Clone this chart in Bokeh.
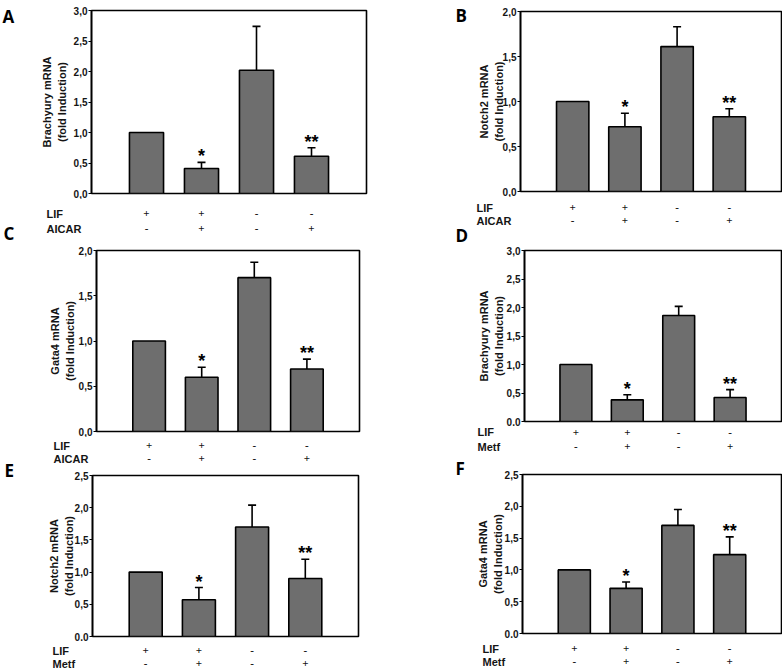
from bokeh.plotting import figure
from bokeh.models import (ColumnDataSource, Whisker, TeeHead, Label, LabelSet,
                          CustomJSTickFormatter, FixedTicker, Range1d)
from bokeh.layouts import row, column
from bokeh.core.properties import value
from bokeh.embed import file_html
from bokeh.resources import INLINE

# ---------------- data ----------------
positions = [1, 2, 3, 4]
lif_row = ["+", "+", "-", "-"]
drug_row = ["-", "+", "-", "+"]
stars = ["", "*", "", "**"]

brachyury_aicar_mean = [1.0, 0.41, 2.02, 0.61]
brachyury_aicar_err = [0.0, 0.10, 0.72, 0.14]
notch2_aicar_mean = [1.0, 0.72, 1.61, 0.83]
notch2_aicar_err = [0.0, 0.15, 0.22, 0.09]
gata4_aicar_mean = [1.0, 0.60, 1.70, 0.69]
gata4_aicar_err = [0.0, 0.11, 0.17, 0.11]
brachyury_metf_mean = [1.0, 0.38, 1.86, 0.42]
brachyury_metf_err = [0.0, 0.09, 0.16, 0.14]
notch2_metf_mean = [1.0, 0.57, 1.70, 0.90]
notch2_metf_err = [0.0, 0.19, 0.34, 0.30]
gata4_metf_mean = [1.0, 0.71, 1.70, 1.24]
gata4_metf_err = [0.0, 0.10, 0.25, 0.28]

ticks_30 = [0.0, 0.5, 1.0, 1.5, 2.0, 2.5, 3.0]
ticks_25 = [0.0, 0.5, 1.0, 1.5, 2.0, 2.5]
ticks_20 = [0.0, 0.5, 1.0, 1.5, 2.0]

FONT = "Liberation Sans"
BAR_COLOR = "#6e6e6e"
TXT = "#151515"
PAGE_H = 668


def base_fig(**kw):
    p = figure(output_backend="svg", toolbar_location=None, title=None,
               frame_align=False, **kw)
    p.grid.visible = False
    p.background_fill_color = "white"
    p.border_fill_color = "white"
    return p


def panel(gene, mean, err, ticks, fig_w, fig_h, mbl, mbr, mbt, frame_h, lab_standoff):
    mbb = fig_h - mbt - frame_h
    p = base_fig(frame_width=fig_w - mbl - mbr, frame_height=frame_h,
                 x_range=Range1d(0, 5), y_range=Range1d(ticks[0], ticks[-1]),
                 x_axis_location=None,
                 min_border_left=mbl, min_border_right=mbr,
                 min_border_top=mbt, min_border_bottom=mbb)
    p.outline_line_color = "black"
    p.outline_line_width = 1.6

    ax = p.yaxis[0]
    ax.ticker = FixedTicker(ticks=ticks)
    ax.formatter = CustomJSTickFormatter(code="return tick.toFixed(1).replace('.', ',')")
    ax.major_tick_out = 3
    ax.major_tick_in = 0
    ax.minor_tick_out = 0
    ax.minor_tick_in = 0
    ax.axis_line_color = "black"
    ax.axis_line_width = 1.6
    ax.major_tick_line_width = 1.2
    ax.major_label_standoff = 1
    ax.major_label_text_font = FONT
    ax.major_label_text_font_style = "bold"
    ax.major_label_text_font_size = "10px"
    ax.major_label_text_color = TXT
    ax.axis_label = f"{gene} mRNA\n(fold Induction)"
    ax.axis_label_text_font = FONT
    ax.axis_label_text_font_style = "bold"
    ax.axis_label_text_font_size = "11px"
    ax.axis_label_text_color = TXT
    ax.axis_label_standoff = lab_standoff

    src = ColumnDataSource(dict(x=positions, top=mean))
    p.vbar(x="x", top="top", width=0.62, bottom=0, source=src,
           fill_color=BAR_COLOR, line_color="black", line_width=1.6)

    ex = [x for x, e in zip(positions, err) if e > 0]
    elow = [m for m, e in zip(mean, err) if e > 0]
    eup = [m + e for m, e in zip(mean, err) if e > 0]
    esrc = ColumnDataSource(dict(x=ex, lower=elow, upper=eup))
    p.add_layout(Whisker(base="x", lower="lower", upper="upper", source=esrc,
                         dimension="height", line_color="black", line_width=1.6,
                         upper_head=TeeHead(size=8, line_color="black", line_width=1.6),
                         lower_head=None, level="overlay"))

    star_y = [m + e for m, e in zip(mean, err)]
    ssrc = ColumnDataSource(dict(x=positions, y=star_y, s=stars))
    p.text(x="x", y="y", text="s", source=ssrc, text_align="center",
           text_baseline="alphabetic", y_offset=-6, text_color="black",
           text_font=value(FONT), text_font_style="bold", text_font_size="18px")
    return p


def conditions(drug, fig_w, h, mbl, frame_w, row_y, row_label_x):
    unit = frame_w / 5.0
    mbr = fig_w - mbl - frame_w
    p = base_fig(frame_width=fig_w, frame_height=h,
                 x_range=Range1d(-mbl / unit, 5 + mbr / unit),
                 y_range=Range1d(h, 0), x_axis_location=None, y_axis_location=None,
                 min_border=0, min_border_left=0, min_border_right=0,
                 min_border_top=0, min_border_bottom=0)
    p.outline_line_color = None
    rsrc = ColumnDataSource(dict(x=positions, lif=lif_row, drug=drug_row))
    for col, ry in zip(["lif", "drug"], row_y):
        p.add_layout(LabelSet(x="x", y=ry, text=col, source=rsrc,
                              text_align="center", text_baseline="middle",
                              text_font=FONT, text_font_style="bold",
                              text_font_size="11px", text_color=TXT))
    for name, ry in zip(["LIF", drug], row_y):
        p.add_layout(Label(x=row_label_x, y=ry, x_units="screen",
                           text=name, text_align="left", text_baseline="middle",
                           text_font=FONT, text_font_style="bold",
                           text_font_size="11px", text_color=TXT))
    return p


def letter_strip(w, x0, letters, spots):
    p = base_fig(frame_width=w, frame_height=PAGE_H,
                 x_range=Range1d(x0, x0 + w), y_range=Range1d(PAGE_H, 0),
                 x_axis_location=None, y_axis_location=None,
                 min_border=0, min_border_left=0, min_border_right=0,
                 min_border_top=0, min_border_bottom=0)
    p.outline_line_color = None
    for t, (lx, ly) in zip(letters, spots):
        p.add_layout(Label(x=lx, y=ly, text=t, text_align="left",
                           text_baseline="alphabetic", text_font="Open Sans",
                           text_font_style="bold", text_font_size="17px",
                           text_color="black"))
    return p


# ---- left column (page x 0..400): letter strip 30 px, panels 370 px ----
LW = 370
pA = panel("Brachyury", brachyury_aicar_mean, brachyury_aicar_err, ticks_30,
           LW, 199, 61, 34, 10, 183, 3)
cA = conditions("AICAR", LW, 43, 61, 275, (14, 29), 16)
pC = panel("Gata4", gata4_aicar_mean, gata4_aicar_err, ticks_20,
           LW, 195, 66, 41, 8, 181, 0)
cC = conditions("AICAR", LW, 31, 66, 263, (8, 21), 23)
pE = panel("Notch2", notch2_metf_mean, notch2_metf_err, ticks_25,
           LW, 173, 62, 42, 7, 161, -3)
cE = conditions("Metf", LW, 27, 62, 266, (9, 22), 22)
sL = letter_strip(30, 0, ["A", "C", "E"], [(2, 16), (3, 233), (4, 470)])

# ---- right column (page x 400..782): letter strip 70 px, panels 312 px ----
RW = 312
pB = panel("Notch2", notch2_aicar_mean, notch2_aicar_err, ticks_20,
           RW, 197, 50, 1, 11, 180, -5)
cB = conditions("AICAR", RW, 47, 50, 261, (10, 23), 6)
pD = panel("Brachyury", brachyury_metf_mean, brachyury_metf_err, ticks_30,
           RW, 182, 54, 1, 6, 171, -1)
cD = conditions("Metf", RW, 42, 54, 257, (5.7, 20), 7)
pF = panel("Gata4", gata4_metf_mean, gata4_metf_err, ticks_25,
           RW, 170, 52, 1, 6, 159, -2)
cF = conditions("Metf", RW, 30, 52, 259, (10.3, 23), 12)
sR = letter_strip(70, 400, ["B", "D", "F"], [(455, 15), (455, 235), (455, 468)])

layout = row(sL, column(pA, cA, pC, cC, pE, cE, spacing=0),
             sR, column(pB, cB, pD, cD, pF, cF, spacing=0), spacing=0)
open("out.html", "w").write(file_html(layout, INLINE))
